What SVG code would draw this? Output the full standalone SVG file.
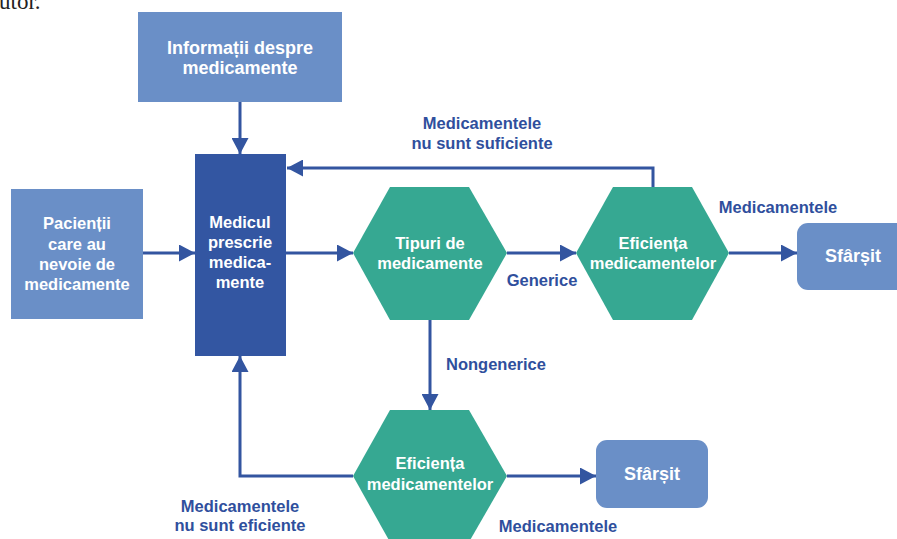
<svg xmlns="http://www.w3.org/2000/svg" width="897" height="539" viewBox="0 0 897 539">
<style>
.box{fill:#6a8fc7}
.dark{fill:#3356a2}
.hex{fill:#36a892}
.nt{font-family:"Liberation Sans",Arial,sans-serif;font-weight:bold;font-size:16.5px;fill:#ffffff;text-anchor:middle}
.end{font-size:18px}
.big{font-size:18px}
.lbl{font-family:"Liberation Sans",Arial,sans-serif;font-weight:bold;font-size:16.5px;fill:#2f4f9d;text-anchor:middle}
.con{fill:none;stroke:#3355a0;stroke-width:3;marker-end:url(#ah)}
</style>
<defs>
<marker id="ah" markerUnits="userSpaceOnUse" markerWidth="17" markerHeight="17" refX="16" refY="8.5" orient="auto">
<path d="M0,0 L16,8.5 L0,17 z" fill="#3355a0"/>
</marker>
</defs>
<rect width="897" height="539" fill="#ffffff"/>
<text x="-1" y="9" font-family="'Liberation Serif',serif" font-size="23" fill="#222">utor.</text>
<g id="connectors">
<path class="con" d="M240,102 L240,154"/>
<path class="con" d="M143,253 L195,253"/>
<path class="con" d="M286,253 L353,253"/>
<path class="con" d="M507,253 L576,253"/>
<path class="con" d="M729,253 L797,253"/>
<path class="con" d="M653,187 L653,168 L287,168"/>
<path class="con" d="M430,320 L430,410"/>
<path class="con" d="M507,476 L596,476"/>
<path class="con" d="M353,476 L240,476 L240,356"/>
<text class="lbl" x="482" y="129">Medicamentele</text>
<text class="lbl" x="482" y="149">nu sunt suficiente</text>
<text class="lbl" x="542" y="286">Generice</text>
<text class="lbl" x="778" y="213">Medicamentele</text>
<text class="lbl" x="446" y="370" style="text-anchor:start">Nongenerice</text>
<text class="lbl" x="240" y="512">Medicamentele</text>
<text class="lbl" x="240" y="531">nu sunt eficiente</text>
<text class="lbl" x="558" y="532">Medicamentele</text>
</g>
<g id="info">
<rect class="box" x="138" y="12" width="204" height="90"/>
<text class="nt big" x="240" y="54">Informații despre</text>
<text class="nt big" x="240" y="74">medicamente</text>
</g>
<g id="pacienti">
<rect class="box" x="11" y="189" width="132" height="130"/>
<text class="nt" x="77" y="229">Pacienții</text>
<text class="nt" x="77" y="250">care au</text>
<text class="nt" x="77" y="270">nevoie de</text>
<text class="nt" x="77" y="290">medicamente</text>
</g>
<g id="medicul">
<rect class="dark" x="195" y="154" width="91" height="202"/>
<text class="nt" x="240" y="228">Medicul</text>
<text class="nt" x="240" y="248">prescrie</text>
<text class="nt" x="240" y="268">medica-</text>
<text class="nt" x="240" y="288">mente</text>
</g>
<g id="tipuri">
<polygon class="hex" points="353,253 390,187 469,187 507,253 469,320 390,320"/>
<text class="nt" x="430" y="249">Tipuri de</text>
<text class="nt" x="430" y="269">medicamente</text>
</g>
<g id="eficienta1">
<polygon class="hex" points="576,253 613,187 692,187 729,253 692,320 613,320"/>
<text class="nt" x="653" y="249">Eficiența</text>
<text class="nt" x="653" y="269">medicamentelor</text>
</g>
<g id="sfarsit1">
<rect class="box" x="797" y="223" width="112" height="67" rx="11"/>
<text class="nt end" x="853" y="262">Sfârșit</text>
</g>
<g id="eficienta2">
<polygon class="hex" points="353,476 390,410 469,410 507,476 469,542 390,542"/>
<text class="nt" x="430" y="469">Eficiența</text>
<text class="nt" x="430" y="490">medicamentelor</text>
</g>
<g id="sfarsit2">
<rect class="box" x="596" y="440" width="112" height="68" rx="11"/>
<text class="nt end" x="652" y="480">Sfârșit</text>
</g>
</svg>
